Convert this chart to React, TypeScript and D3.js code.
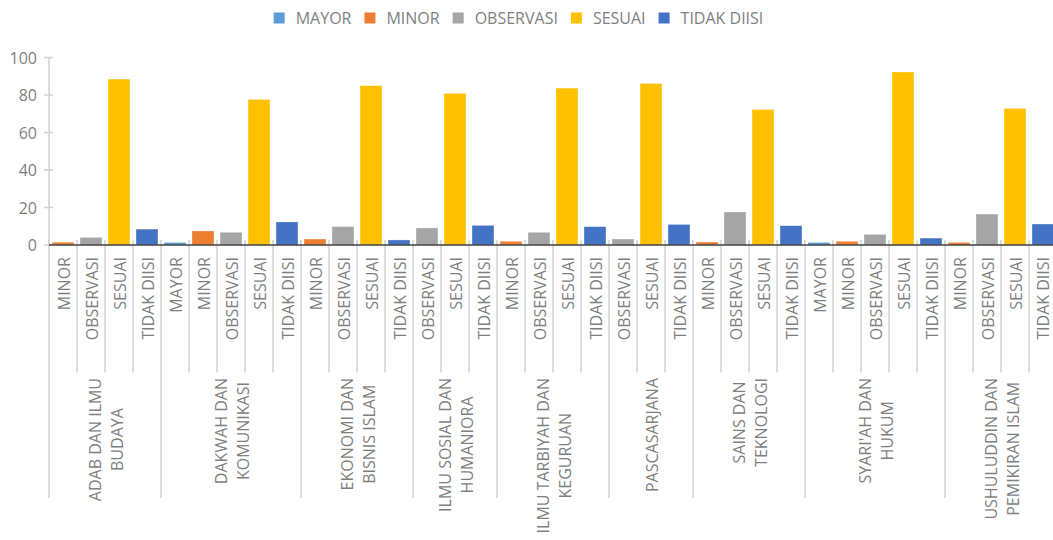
import React from "react";
import * as d3 from "d3";

const statuses = ["MAYOR", "MINOR", "OBSERVASI", "SESUAI", "TIDAK DIISI"];
const statusColors = ["#5B9BD5", "#ED7D31", "#A5A5A5", "#FFC000", "#4472C4"];

const groupLabels = [
  ["ADAB DAN ILMU", "BUDAYA"],
  ["DAKWAH DAN", "KOMUNIKASI"],
  ["EKONOMI DAN", "BISNIS ISLAM"],
  ["ILMU SOSIAL DAN", "HUMANIORA"],
  ["ILMU TARBIYAH DAN", "KEGURUAN"],
  ["PASCASARJANA"],
  ["SAINS DAN", "TEKNOLOGI"],
  ["SYARI'AH DAN", "HUKUM"],
  ["USHULUDDIN DAN", "PEMIKIRAN ISLAM"],
];

const groupCategories = [
  ["MINOR", "OBSERVASI", "SESUAI", "TIDAK DIISI"],
  ["MAYOR", "MINOR", "OBSERVASI", "SESUAI", "TIDAK DIISI"],
  ["MINOR", "OBSERVASI", "SESUAI", "TIDAK DIISI"],
  ["OBSERVASI", "SESUAI", "TIDAK DIISI"],
  ["MINOR", "OBSERVASI", "SESUAI", "TIDAK DIISI"],
  ["OBSERVASI", "SESUAI", "TIDAK DIISI"],
  ["MINOR", "OBSERVASI", "SESUAI", "TIDAK DIISI"],
  ["MAYOR", "MINOR", "OBSERVASI", "SESUAI", "TIDAK DIISI"],
  ["MINOR", "OBSERVASI", "SESUAI", "TIDAK DIISI"],
];

const groupValues = [
  [1.5, 4.1, 88.5, 8.5],
  [1.4, 7.5, 6.8, 77.7, 12.3],
  [3.2, 9.8, 85.0, 2.7],
  [9.1, 80.9, 10.5],
  [2.0, 6.8, 83.7, 9.8],
  [3.2, 86.2, 11.0],
  [1.6, 17.6, 72.3, 10.3],
  [1.4, 2.0, 5.7, 92.3, 3.7],
  [1.4, 16.5, 72.9, 11.2],
];

const yTicks = [0, 20, 40, 60, 80, 100];

const FONT = "'Open Sans', 'Noto Sans', sans-serif";
const TEXT_COLOR = "#7f7f7f";

function measure(text: string, size: number): number {
  if (typeof document === "undefined") return text.length * size * 0.6;
  const c = document.createElement("canvas");
  const ctx = c.getContext("2d");
  if (!ctx) return text.length * size * 0.6;
  ctx.font = `${size}px 'Open Sans'`;
  return ctx.measureText(text).width;
}

export default function App() {
  const W = 1053;
  const H = 540;
  const x0 = 49;
  const step = 28;
  const baseY = 245;

  const items: { g: number; cat: string; value: number; idx: number }[] = [];
  const groupStart: number[] = [];
  groupCategories.forEach((cats, g) => {
    groupStart.push(items.length);
    cats.forEach((cat, i) => {
      items.push({ g, cat, value: groupValues[g][i], idx: items.length });
    });
  });
  groupStart.push(items.length);

  const x = d3
    .scaleBand<number>()
    .domain(items.map((d) => d.idx))
    .range([x0, x0 + step * items.length])
    .paddingInner(0.214)
    .paddingOuter(0.107);

  const y = d3.scaleLinear().domain([0, 100]).range([baseY, 57.5]);
  const color = d3.scaleOrdinal<string, string>().domain(statuses).range(statusColors);

  const catBoundary = (i: number) => x0 + step * i;

  // legend layout
  const legendSize = 16;
  const widths = statuses.map((s) => measure(s, legendSize));
  const sq = 11;
  const gapText = 11;
  const gapItem = 13;
  const total = widths.reduce((a, w) => a + sq + gapText + w, 0) + gapItem * (statuses.length - 1);
  let lx = 518.5 - total / 2;
  const legendPos = widths.map((w) => {
    const p = lx;
    lx += sq + gapText + w + gapItem;
    return p;
  });

  return (
    <svg
      width={W}
      height={H}
      style={{ position: "absolute", left: 0, top: 0, background: "#fff" }}
      fontFamily={FONT}
    >
      <rect x={0} y={0} width={W} height={H} fill="#fff" />
      {/* legend */}
      {statuses.map((s, i) => (
        <g key={s}>
          <rect x={legendPos[i]} y={12.5} width={sq} height={sq} fill={color(s)} />
          <text
            x={legendPos[i] + sq + gapText}
            y={18}
            dominantBaseline="central"
            fontSize={legendSize}
            fill={TEXT_COLOR}
          >
            {s}
          </text>
        </g>
      ))}

      {/* y axis */}
      <line x1={x0} x2={x0} y1={y(100)} y2={baseY} stroke="#d0d0d0" strokeWidth={1.5} />
      {yTicks.map((t) => (
        <g key={t}>
          <line x1={44} x2={53} y1={y(t)} y2={y(t)} stroke="#d0d0d0" strokeWidth={1.5} />
          <text
            x={37}
            y={y(t)}
            textAnchor="end"
            dominantBaseline="central"
            fontSize={16}
            fill={TEXT_COLOR}
          >
            {t}
          </text>
        </g>
      ))}

      {/* bars */}
      {items.map((d) => (
        <rect
          key={d.idx}
          x={x(d.idx)}
          y={y(d.value)}
          width={x.bandwidth()}
          height={baseY - y(d.value)}
          fill={color(d.cat)}
          stroke="#ffffff"
          strokeOpacity={0.6}
          strokeWidth={0.6}
        />
      ))}

      {/* category ticks */}
      {d3.range(items.length + 1).map((i) => {
        const isGroup = groupStart.includes(i);
        return (
          <line
            key={"t" + i}
            x1={catBoundary(i)}
            x2={catBoundary(i)}
            y1={240}
            y2={isGroup ? 498 : 372.5}
            stroke="#d0d0d0"
            strokeWidth={1.5}
          />
        );
      })}

      {/* baseline */}
      <line x1={x0} x2={W} y1={baseY} y2={baseY} stroke="#404040" strokeWidth={1.5} />

      {/* category labels */}
      {items.map((d) => {
        const cx = Math.min((x(d.idx) as number) + x.bandwidth() / 2 + 1, W - 10);
        return (
          <text
            key={"c" + d.idx}
            transform={`translate(${cx},257) rotate(-90)`}
            textAnchor="end"
            dominantBaseline="central"
            fontSize={16}
            fill={TEXT_COLOR}
          >
            {d.cat}
          </text>
        );
      })}

      {/* group labels */}
      {groupLabels.map((lines, g) => {
        const gc = (catBoundary(groupStart[g]) + catBoundary(groupStart[g + 1])) / 2;
        const maxW = Math.max(...lines.map((l) => measure(l, 16)));
        const cy = 378 + maxW / 2;
        const offsets = lines.length === 1 ? [0.5] : [-10, 11.5];
        return lines.map((l, li) => (
          <text
            key={"g" + g + "-" + li}
            transform={`translate(${gc + offsets[li]},${cy}) rotate(-90)`}
            textAnchor="middle"
            dominantBaseline="central"
            fontSize={16}
            fill={TEXT_COLOR}
          >
            {l}
          </text>
        ));
      })}
    </svg>
  );
}
